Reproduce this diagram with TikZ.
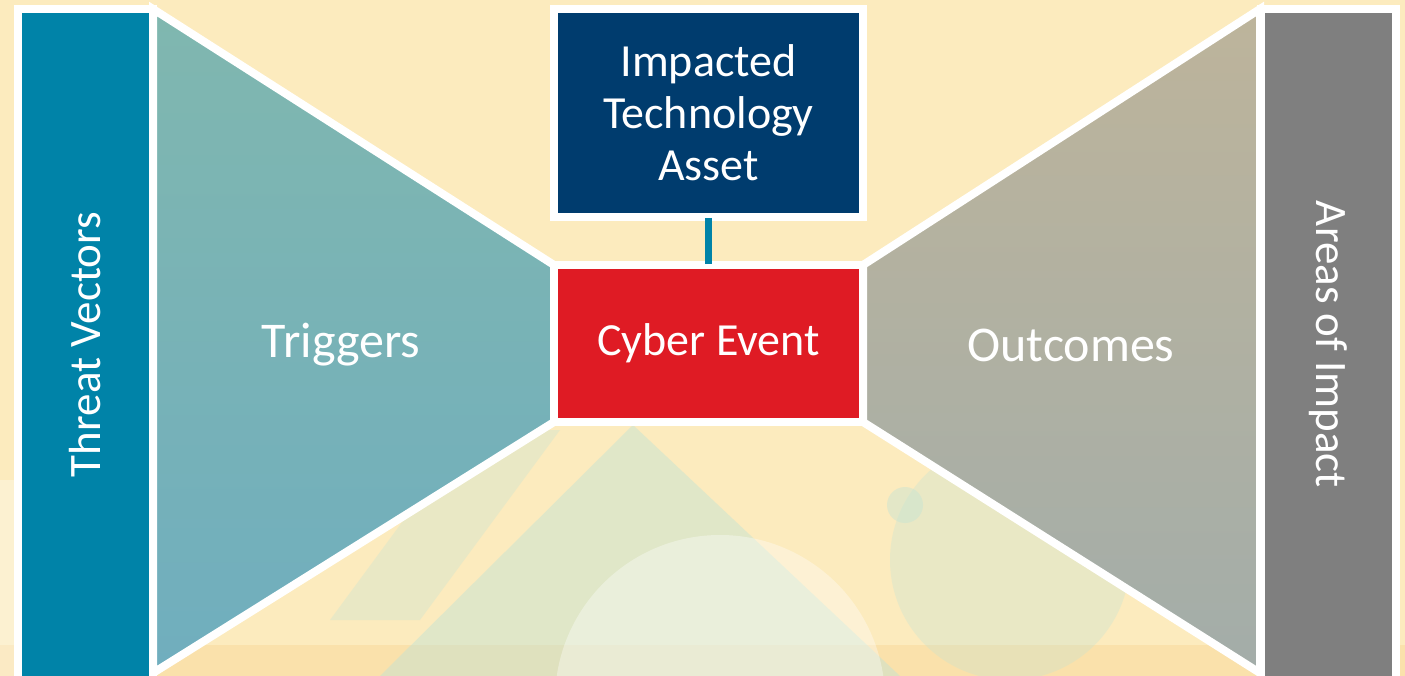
\documentclass[tikz,border=0pt]{standalone}
\usepackage{fontspec}
\setmainfont{Carlito}
\definecolor{bgyellow}{HTML}{FCEBBE}
\definecolor{threatblue}{HTML}{0083A8}
\definecolor{trigtop}{HTML}{80B7AF}
\definecolor{trigbot}{HTML}{70AEBE}
\definecolor{outtop}{HTML}{BDB49B}
\definecolor{outbot}{HTML}{A3ADA9}
\definecolor{assetblue}{HTML}{003C6E}
\definecolor{eventred}{HTML}{DF1B24}
\definecolor{impactgray}{HTML}{7F7F7F}
\definecolor{paleteal}{HTML}{BFE3D6}
\definecolor{paleorange}{HTML}{F9D89A}
\tikzset{
  bar/.style={draw=white, line width=8pt, inner sep=0pt, minimum width=135pt, minimum height=671pt, text=white, font=\fontsize{45}{52}\selectfont},
  centrebox/.style={draw=white, line width=8pt, inner sep=0pt, outer sep=0pt, minimum width=309pt, text=white, align=center, font=\fontsize{46}{52}\selectfont},
  funnel/.style={draw=white, line width=8pt, line join=miter},
  funneltext/.style={text=white, font=\fontsize{50}{58}\selectfont},
  link/.style={draw=threatblue, line width=7pt, shorten <=1pt, shorten >=1pt}
}
\begin{document}
\begin{tikzpicture}[x=1pt,y=-1pt]
\useasboundingbox (0,0) rectangle (1405,676);
\fill[bgyellow] (0,0) rectangle (1405,676);
% faint background pattern
\fill[paleorange, opacity=0.5] (0,645) rectangle (1405,676);
\fill[paleteal, opacity=0.45] (633,425) -- (900,676) -- (380,676) -- cycle;
\fill[paleteal, opacity=0.3] (560,430) -- (470,430) -- (330,620) -- (420,620) -- cycle;
\fill[white, opacity=0.35] (720,700) circle (165);
\fill[paleteal, opacity=0.3] (1010,560) circle (120);
\fill[paleteal, opacity=0.4] (905,505) circle (18);
\fill[white, opacity=0.3] (0,480) rectangle (14,676);
% funnels
\path[funnel, top color=trigtop, bottom color=trigbot] (153,9) -- (554,265) -- (554,422) -- (153,673) -- cycle;
\path[funnel, top color=outtop, bottom color=outbot] (1260,9) -- (863,265) -- (863,422) -- (1260,673) -- cycle;
\node[funneltext] (triggers) at (341,345) {Triggers};
\node[funneltext] (outcomes) at (1071,345) {Outcomes};
% side bars
\node[bar, fill=threatblue] (threat) at (85.5,344.5) {\rotatebox{90}{Threat Vectors}};
\node[bar, fill=impactgray] (areas) at (1328.5,344.5) {\rotatebox{-90}{Areas of Impact}};
% centre boxes
\node[centrebox, fill=assetblue, minimum height=208pt] (asset) at (708.5,113) {Impacted\\Technology\\Asset};
\node[centrebox, fill=eventred, minimum height=157pt] (event) at (708.5,343.5) {Cyber Event};
\draw[link] (asset.south) -- (event.north);
\end{tikzpicture}
\end{document}
